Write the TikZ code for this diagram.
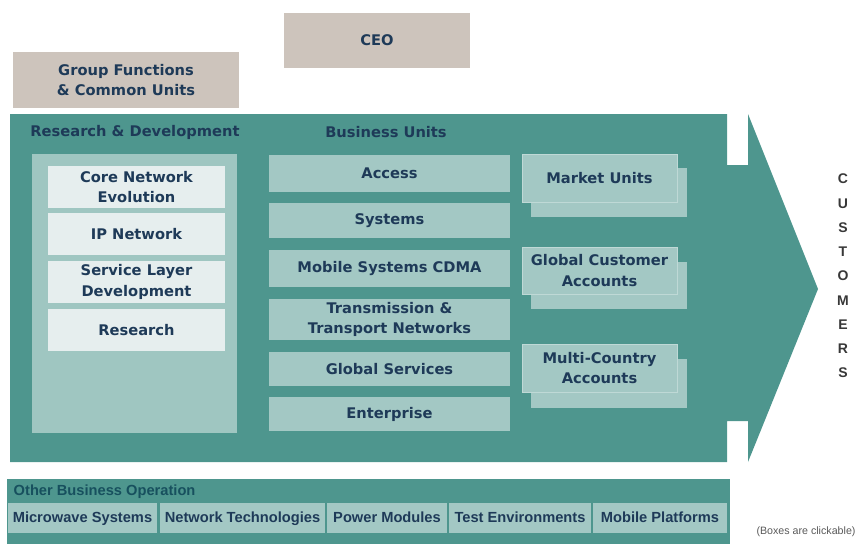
\documentclass[tikz,border=0pt]{standalone}
\usepackage{fontspec}
\setmainfont{DejaVu Sans}
\newfontfamily\arialfont{Liberation Sans}
\usepackage{tikz}
\definecolor{mainteal}{HTML}{4E968E}
\definecolor{lightteal}{HTML}{A3C8C4}
\definecolor{paleteal}{HTML}{E6EEEE}
\definecolor{beige}{HTML}{CDC4BC}
\definecolor{navy}{HTML}{1E3A58}
\definecolor{darkteal}{HTML}{17505E}
\tikzstyle{lbl} = [font=\fontsize{11}{15.5}\selectfont\bfseries, text=navy, align=center]
\tikzstyle{cell} = [font=\arialfont\bfseries\fontsize{11}{13}\selectfont, text=navy, text height=1.6ex, text depth=0.4ex]
\tikzstyle{front} = [fill=lightteal, draw=lightteal!70!white, line width=0.6pt]

\begin{document}
\begin{tikzpicture}[x=0.75pt, y=-0.75pt]
	\useasboundingbox (0,0) rectangle (860,544);
	% top boxes
	\fill[beige] (284,13) rectangle (470,68) node[midway, lbl] (ceo) {CEO};
	\fill[beige] (13,52) rectangle (239,108) node[midway, lbl] (group) {Group Functions\\\& Common Units};
	% big arrow
	\fill[mainteal] (10,114) -- (727,114) -- (727,165) -- (748,165) -- (748,114) -- (818,289)
		-- (748,462) -- (748,421) -- (727,421) -- (727,462) -- (10,462) -- cycle;
	\node[lbl, anchor=center] (rdtitle) at (135,132) {Research \& Development};
	\node[lbl, anchor=center] (butitle) at (386,132) {Business Units};
	% research and development
	\fill[lightteal!95!mainteal] (32,154) rectangle (237,433);
	\fill[paleteal] (48,166) rectangle (225,208) node[midway, lbl] (core) {Core Network\\Evolution};
	\fill[paleteal] (48,213) rectangle (225,255) node[midway, lbl] (ip) {IP Network};
	\fill[paleteal] (48,261) rectangle (225,303) node[midway, lbl] (service) {Service Layer\\Development};
	\fill[paleteal] (48,309) rectangle (225,351) node[midway, lbl] (research) {Research};
	% business units
	\fill[lightteal] (269,155) rectangle (510,192) node[midway, lbl] (access) {Access};
	\fill[lightteal] (269,203) rectangle (510,238) node[midway, lbl] (systems) {Systems};
	\fill[lightteal] (269,250) rectangle (510,287) node[midway, lbl] (cdma) {Mobile Systems CDMA};
	\fill[lightteal] (269,299) rectangle (510,340) node[midway, lbl] (transport) {Transmission \&\\Transport Networks};
	\fill[lightteal] (269,352) rectangle (510,386) node[midway, lbl] (services) {Global Services};
	\fill[lightteal] (269,397) rectangle (510,431) node[midway, lbl] (enterprise) {Enterprise};
	% market units
	\fill[lightteal] (531,168) rectangle (687,217);
	\draw[front] (522,154) rectangle (677,202) node[midway, lbl] (market) {Market Units};
	\fill[lightteal] (531,262) rectangle (687,309);
	\draw[front] (522,247) rectangle (677,294) node[midway, lbl] (global) {Global Customer\\Accounts};
	\fill[lightteal] (531,359) rectangle (687,408);
	\draw[front] (522,344) rectangle (677,392) node[midway, lbl] (multi) {Multi-Country\\Accounts};
	% customers
	\node[font=\arialfont\bfseries\fontsize{10.5}{18.2}\selectfont, text=black!78, align=center] (customers) at (843,276)
		{C\\U\\S\\T\\O\\M\\E\\R\\S};
	% other business operation
	\fill[mainteal] (7,479) rectangle (730,544);
	\node[cell, text=darkteal, anchor=west] (other) at (9,491) {Other Business Operation};
	\fill[lightteal] (8,503) rectangle (157,533) node[midway, cell] (microwave) {Microwave Systems};
	\fill[lightteal] (160,503) rectangle (325,533) node[midway, cell] (nettech) {Network Technologies};
	\fill[lightteal] (327,503) rectangle (447,533) node[midway, cell] (power) {Power Modules};
	\fill[lightteal] (449,503) rectangle (591,533) node[midway, cell] (test) {Test Environments};
	\fill[lightteal] (593,503) rectangle (727,533) node[midway, cell] (mobile) {Mobile Platforms};
	\node[font=\arialfont\fontsize{8}{9}\selectfont, text=black!65] (clickable) at (806,532) {(Boxes are clickable)};
\end{tikzpicture}
\end{document}
